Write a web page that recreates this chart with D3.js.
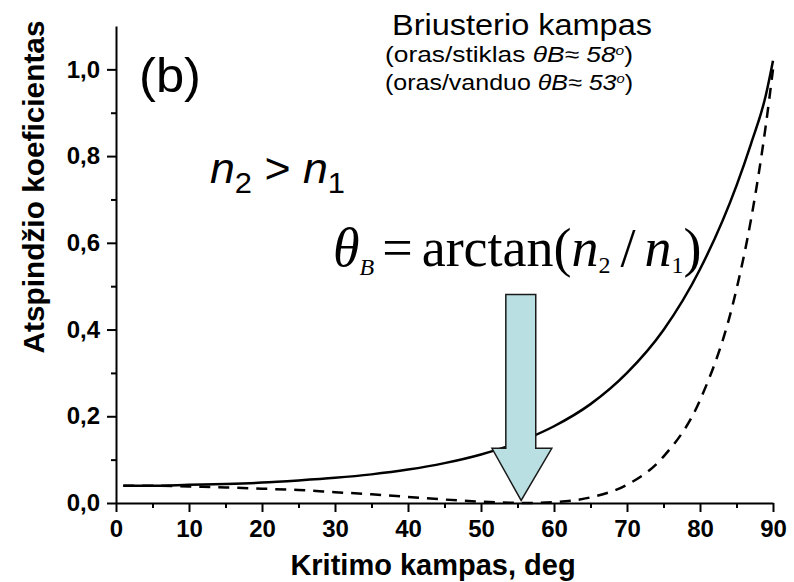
<!DOCTYPE html>
<html>
<head>
<meta charset="utf-8">
<script src="https://cdn.jsdelivr.net/npm/d3@7"></script>
<style>
  body { margin: 0; background: #fff; }
  text { font-family: "Liberation Sans", Arial, sans-serif; }
  .axis path, .axis line { stroke: #000; stroke-width: 2; }
  .label { font-size: 29px; font-weight: bold; }
</style>
</head>
<body>
<svg width="794" height="582"></svg>
<script>
// incidence angle (deg) and reflectance
var angles = [1, 5, 10, 15, 20, 25, 30, 35, 40, 45, 50, 55, 56, 60, 65, 70, 75, 80, 85, 87, 89, 90];
var rsValues = [0.040, 0.040, 0.042, 0.044, 0.047, 0.052, 0.058, 0.066, 0.077, 0.092, 0.112, 0.139, 0.146, 0.177, 0.228, 0.300, 0.399, 0.539, 0.732, 0.829, 0.939, 1.02];
var rpValues = [0.040, 0.040, 0.038, 0.036, 0.033, 0.030, 0.025, 0.020, 0.014, 0.008, 0.003, 0.0002, 0.0, 0.002, 0.013, 0.042, 0.107, 0.237, 0.493, 0.655, 0.869, 1.0];

var xTicks = [0, 10, 20, 30, 40, 50, 60, 70, 80, 90];
var xMinorTicks = [5, 15, 25, 35, 45, 55, 65, 75, 85];
var yTicks = [0, 0.2, 0.4, 0.6, 0.8, 1.0];
var yMinorTicks = [0.1, 0.3, 0.5, 0.7, 0.9];

// arrow pointing at the Brewster angle (data units)
var arrowShaft = [53.4, 57.5];
var arrowHead = [51.5, 59.7];
var arrowTip = [55.5, 0.006];
var arrowTop = 0.481;
var arrowShoulder = 0.126;

var w = 794, h = 582;

var xscale = d3.scaleLinear().domain([0, 90]).range([116, 773]);
var yscale = d3.scaleLinear().domain([0, 1.1]).range([503, 26]);

var svg = d3.select("svg");

var fmt = function(d){ return d3.format(".1f")(d).replace(".", ","); };

// x axis
svg.append("g").attr("class", "x axis")
  .attr("transform", "translate(0," + yscale(0) + ")")
  .call(d3.axisBottom(xscale).tickValues(xTicks).tickSize(9).tickSizeOuter(0).tickPadding(8));

svg.append("g").attr("class", "x axis minor")
  .attr("transform", "translate(0," + yscale(0) + ")")
  .call(d3.axisBottom(xscale).tickValues(xMinorTicks).tickSize(5).tickFormat(""))
  .select(".domain").remove();

// y axis
svg.append("g").attr("class", "y axis")
  .attr("transform", "translate(" + xscale(0) + ",0)")
  .call(d3.axisLeft(yscale).tickValues(yTicks).tickSize(9).tickSizeOuter(0).tickPadding(7).tickFormat(fmt));

svg.append("g").attr("class", "y axis minor")
  .attr("transform", "translate(" + xscale(0) + ",0)")
  .call(d3.axisLeft(yscale).tickValues(yMinorTicks).tickSize(5).tickFormat(""))
  .select(".domain").remove();

svg.selectAll(".axis .tick text")
  .style("font-family", "'Liberation Sans', Arial, sans-serif")
  .style("font-size", "24px")
  .style("font-weight", "bold")
  .attr("fill", "#000");

// axis titles
svg.append("text").attr("class", "label")
  .attr("x", 433).attr("y", 575)
  .attr("text-anchor", "middle")
  .text("Kritimo kampas, deg");

svg.append("text").attr("class", "label")
  .attr("transform", "translate(44,187) rotate(-90)")
  .attr("text-anchor", "middle")
  .attr("textLength", 333)
  .attr("lengthAdjust", "spacingAndGlyphs")
  .text("Atspindžio koeficientas");

// curves
var line = d3.line()
  .x(function(d){ return xscale(d[0]); })
  .y(function(d){ return yscale(d[1]); })
  .curve(d3.curveMonotoneX);

svg.append("path")
  .datum(angles.map(function(a, i){ return [a, rpValues[i]]; }))
  .attr("d", line)
  .attr("fill", "none")
  .attr("stroke", "#000")
  .attr("stroke-width", 2.5)
  .attr("stroke-dasharray", "11,8");

svg.append("path")
  .datum(angles.map(function(a, i){ return [a, rsValues[i]]; }))
  .attr("d", line)
  .attr("fill", "none")
  .attr("stroke", "#000")
  .attr("stroke-width", 2.5);

// arrow
var arrowPts = [
  [arrowShaft[0], arrowTop], [arrowShaft[1], arrowTop],
  [arrowShaft[1], arrowShoulder], [arrowHead[1], arrowShoulder],
  [arrowTip[0], arrowTip[1]],
  [arrowHead[0], arrowShoulder], [arrowShaft[0], arrowShoulder]
];
svg.append("polygon")
  .attr("points", arrowPts.map(function(p){ return xscale(p[0]) + "," + yscale(p[1]); }).join(" "))
  .attr("fill", "#b9dfe2")
  .attr("stroke", "#1a1a1a")
  .attr("stroke-width", 1.5)
  .attr("stroke-linejoin", "miter");

// annotations
svg.append("text")
  .attr("x", 139).attr("y", 92)
  .style("font-size", "49px")
  .attr("textLength", 62)
  .attr("lengthAdjust", "spacingAndGlyphs")
  .text("(b)");

svg.append("text")
  .attr("x", 392).attr("y", 35)
  .style("font-size", "30px")
  .attr("textLength", 260)
  .attr("lengthAdjust", "spacingAndGlyphs")
  .text("Briusterio kampas");

var brewster = [["stiklas", "58"], ["vanduo", "53"]];
brewster.forEach(function(b, i){
  var t = svg.append("text")
    .attr("x", 385).attr("y", 61.5 + i * 28)
    .style("font-size", "22px")
    .attr("textLength", 248)
    .attr("lengthAdjust", "spacingAndGlyphs");
  t.append("tspan").text("(oras/" + b[0] + " ");
  t.append("tspan").style("font-style", "italic").text("θB≈ " + b[1]);
  t.append("tspan").style("font-style", "italic").style("font-size", "13px").attr("dy", -7).text("o");
  t.append("tspan").attr("dy", 7).text(")");
});

var ineq = svg.append("text")
  .attr("x", 210).attr("y", 183)
  .style("font-size", "42px")
  .style("font-style", "italic")
  .attr("textLength", 135)
  .attr("lengthAdjust", "spacingAndGlyphs");
ineq.append("tspan").text("n");
ineq.append("tspan").style("font-style", "normal").style("font-size", "29px").attr("dy", 10).text("2");
ineq.append("tspan").style("font-style", "normal").attr("dy", -10).text(" > ");
ineq.append("tspan").text("n");
ineq.append("tspan").style("font-style", "normal").style("font-size", "29px").attr("dy", 10).text("1");

var formula = svg.append("text")
  .attr("x", 333).attr("y", 266)
  .style("font-family", "'Liberation Serif', 'Times New Roman', serif")
  .style("font-size", "54px");
formula.append("tspan").style("font-style", "italic").text("θ");
formula.append("tspan").style("font-style", "italic").style("font-size", "24px").attr("dy", 9).text("B");
formula.append("tspan").attr("dy", -9).attr("dx", 8).text("=");
formula.append("tspan").attr("dx", 9).text("arctan(");
formula.append("tspan").style("font-style", "italic").text("n");
formula.append("tspan").style("font-size", "24px").attr("dy", 7).text("2");
formula.append("tspan").attr("dy", -7).attr("dx", 10).text("/");
formula.append("tspan").attr("dx", 9).style("font-style", "italic").text("n");
formula.append("tspan").style("font-size", "24px").attr("dy", 7).text("1");
formula.append("tspan").attr("dy", -7).text(")");
</script>
</body>
</html>
